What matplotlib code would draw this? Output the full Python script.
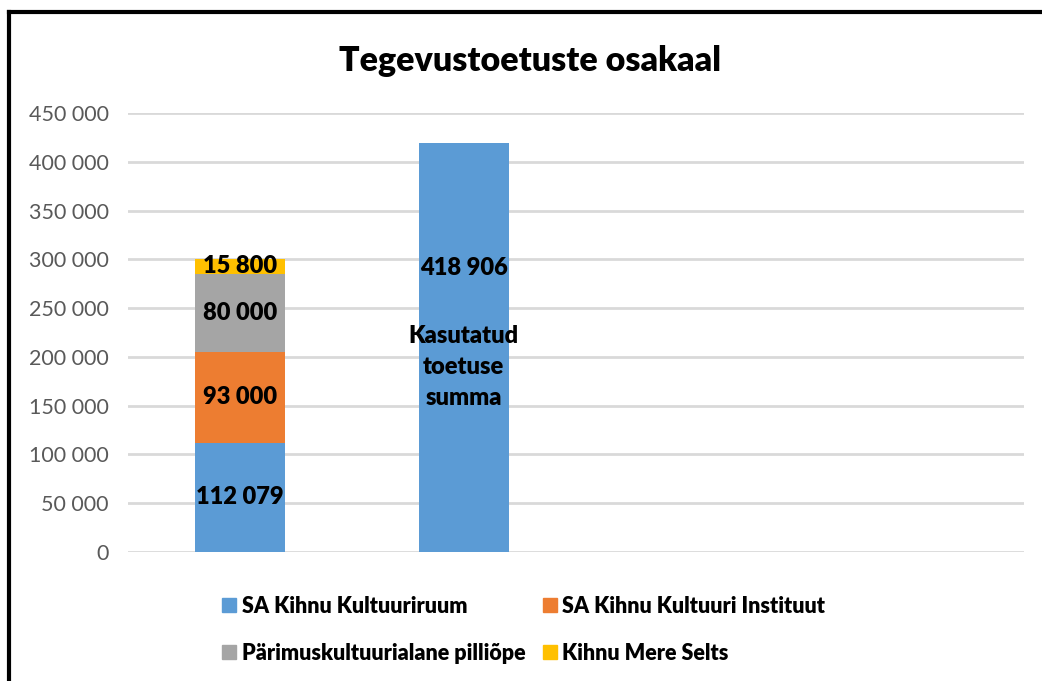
import matplotlib
matplotlib.use("Agg")
import matplotlib.pyplot as plt
from matplotlib.lines import Line2D
from matplotlib.ticker import FuncFormatter

plt.rcParams['font.family'] = ['Lato', 'DejaVu Sans']

categories = ["Tegevustoetus", "Kasutatud", "", " "]
series_names = ["SA Kihnu Kultuuriruum", "SA Kihnu Kultuuri Instituut",
                "Pärimuskultuurialane pilliõpe", "Kihnu Mere Selts"]
stack_values = [112079, 93000, 80000, 15800]
used_total = 418906
used_label = "Kasutatud\ntoetuse\nsumma"
colors = ["#5B9BD5", "#ED7D31", "#A5A5A5", "#FFC000"]
yticks = list(range(0, 450001, 50000))

fig = plt.figure(figsize=(10.42, 6.81), dpi=100)
ax = fig.add_axes([0.1228, 0.1894, 0.8595, 0.6446])

x = list(range(len(categories)))
width = 0.40
bottom = 0
handles = []
for val, col, name in zip(stack_values, colors, series_names):
    ax.bar(x[0], val, width, bottom=bottom, color=col, zorder=2)
    ax.text(x[0], bottom + val / 2, f"{val:,}".replace(",", " "),
            ha="center", va="center", fontsize=17, fontweight="heavy", color="black", zorder=3)
    bottom += val
    handles.append(Line2D([], [], marker="s", linestyle="none", markersize=10,
                          markerfacecolor=col, markeredgecolor=col, label=name))

ax.bar(x[1], used_total, width, color=colors[0], zorder=2)
ax.text(x[1], used_total * 0.695, f"{used_total:,}".replace(",", " "),
        ha="center", va="center", fontsize=17, fontweight="heavy", color="black", zorder=3)
ax.text(x[1], used_total * 0.453, used_label, ha="center", va="center",
        fontsize=17, fontweight="heavy", color="black", linespacing=1.5, zorder=3)

ax.set_xlim(-0.5, len(categories) - 0.5)
ax.set_ylim(0, 450000)
ax.set_yticks(yticks)
ax.yaxis.set_major_formatter(FuncFormatter(lambda v, p: f"{int(v):,}".replace(",", " ")))
ax.set_xticks([])
ax.tick_params(axis="y", length=0, labelsize=15.5, labelcolor="#595959", pad=14)
ax.grid(axis="y", color="#D9D9D9", linewidth=2, zorder=0)
for s in ax.spines.values():
    s.set_visible(False)

fig.text(0.509, 0.910, "Tegevustoetuste osakaal", ha="center", va="center",
         fontsize=24.5, fontweight="heavy", color="black")

# legend filled row by row as in the reference
order = [0, 2, 1, 3]
leg = fig.legend(handles=[handles[i] for i in order], ncol=2, loc="center",
                 bbox_to_anchor=(0.501, 0.075),
                 frameon=False, prop={"size": 15.5, "weight": "heavy"},
                 handletextpad=0.1, columnspacing=0.6, labelspacing=1.2, handlelength=1.0)

# frame lines (left and top) as in the screenshot
fig.add_artist(Line2D([0.0086, 0.0086], [0.0, 0.983], transform=fig.transFigure, color="black", linewidth=3))
fig.add_artist(Line2D([0.0086, 1.0], [0.983, 0.983], transform=fig.transFigure, color="black", linewidth=3))

fig.savefig("out.png", dpi=100, facecolor="white")
